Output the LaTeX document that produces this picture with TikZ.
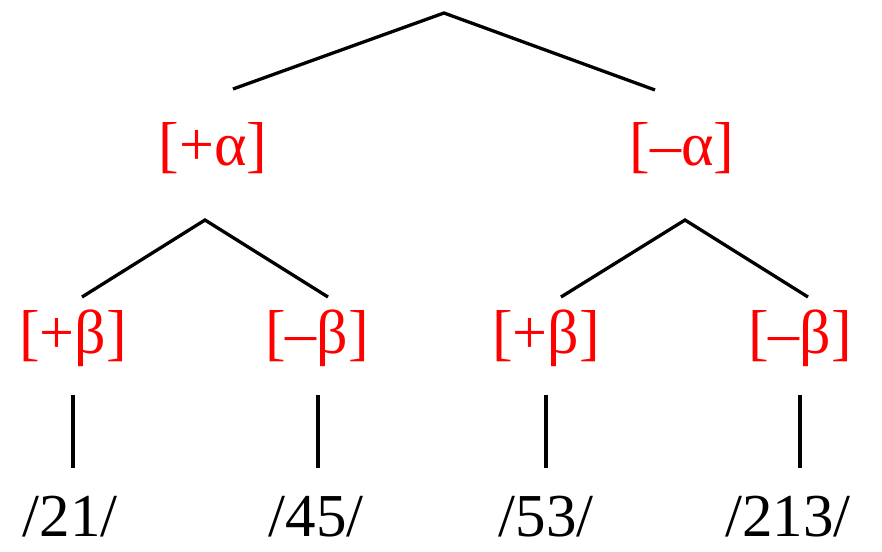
\documentclass[tikz,border=0pt]{standalone}
\usepackage{fontspec}
\setmainfont{Liberation Serif}
\usepackage{xcolor}
\usepackage{tikz}
\usetikzlibrary{positioning}
\definecolor{featred}{RGB}{255,0,0}

\begin{document}
\begin{tikzpicture}[
  x=1pt, y=-1pt,
  feat/.style={text=featred, font=\fontsize{62}{72}\selectfont, inner sep=0pt, anchor=base},
  form/.style={text=black, font=\fontsize{61}{72}\selectfont, inner sep=0pt, anchor=base},
  branch/.style={line width=3.3pt, black},
]
  \useasboundingbox (0,0) rectangle (882,551);

  % feature labels
  \node[feat] (pa)  at (213,165) {[+α]};
  \node[feat] (ma)  at (682,165) {[–α]};
  \node[feat] (pab) at (73,353)  {[+β]};
  \node[feat] (pam) at (317,353) {[–β]};
  \node[feat] (mab) at (546,353) {[+β]};
  \node[feat] (mam) at (800,353) {[–β]};

  % surface forms
  \node[form] (f1) at (70,536)  {/21/};
  \node[form] (f2) at (316,536) {/45/};
  \node[form] (f3) at (546,536) {/53/};
  \node[form] (f4) at (788,536) {/213/};

  % branch points
  \coordinate (root) at (444,13);
  \coordinate (pa-top) at (233,89);
  \coordinate (ma-top) at (655,90);
  \coordinate (pa-low) at (205,220);
  \coordinate (ma-low) at (685,220);
  \coordinate (pab-top) at (82,297);
  \coordinate (pam-top) at (328,297);
  \coordinate (mab-top) at (561,297);
  \coordinate (mam-top) at (808,297);

  \draw[branch] (pa-top) -- (root) -- (ma-top);
  \draw[branch] (pab-top) -- (pa-low) -- (pam-top);
  \draw[branch] (mab-top) -- (ma-low) -- (mam-top);

  % leaves
  \foreach \x/\n in {73/1, 318/2, 546/3, 800/4}
    \draw[branch] (\x,395) coordinate (leaf\n-top) -- (\x,468) coordinate (leaf\n-low);
\end{tikzpicture}
\end{document}
